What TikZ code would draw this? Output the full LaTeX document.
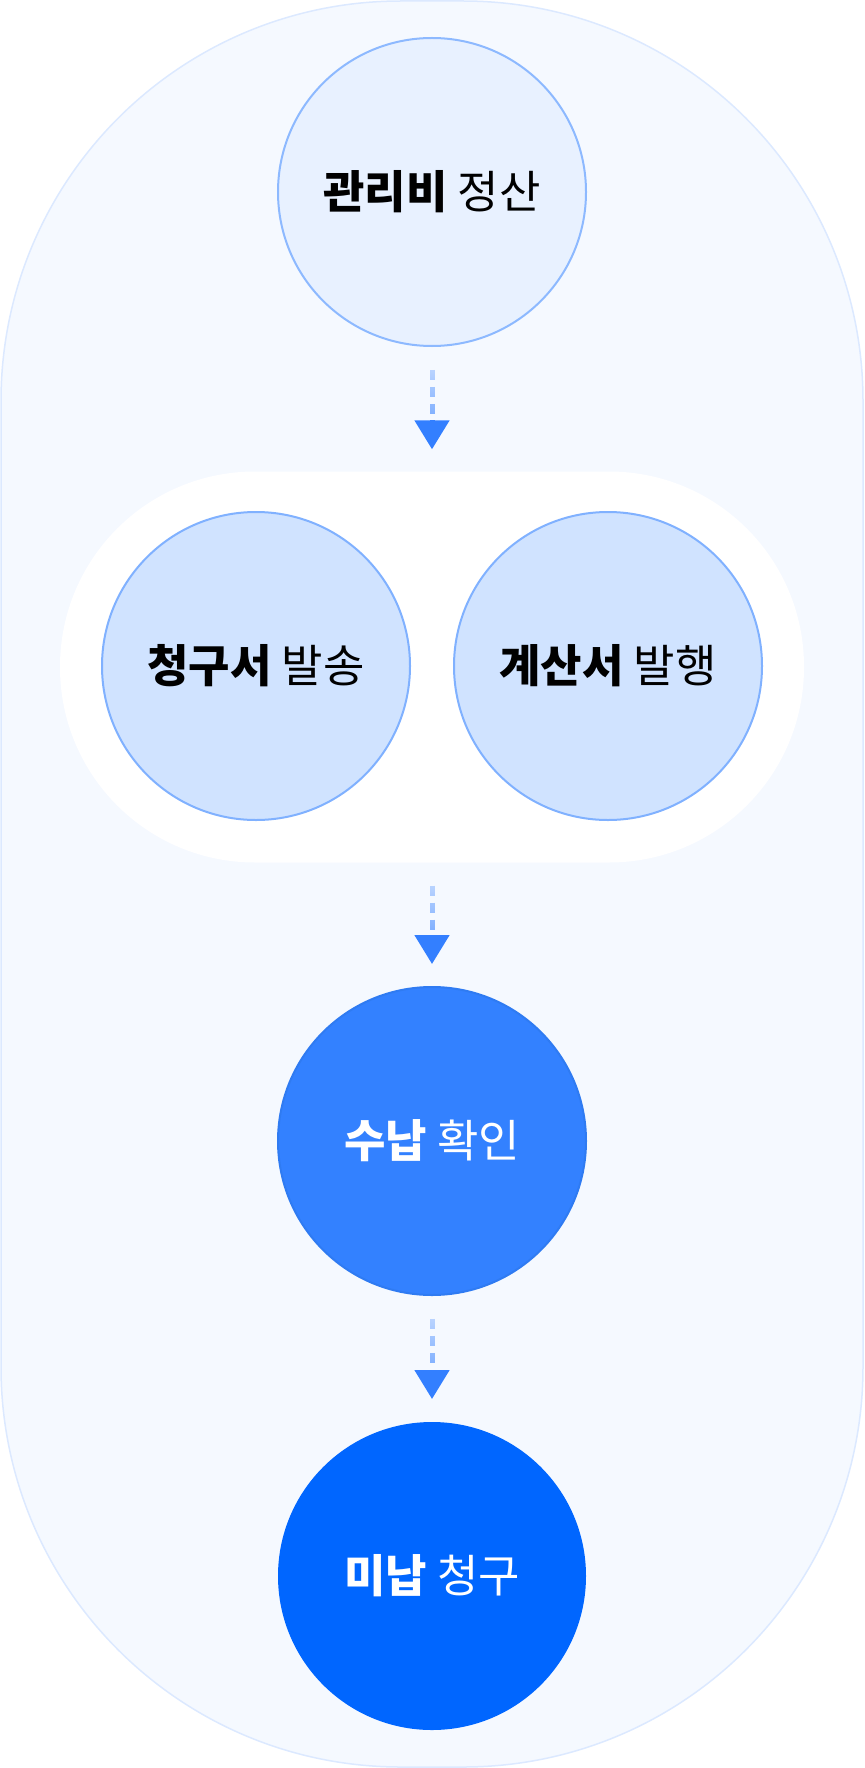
\documentclass[tikz,border=0pt]{standalone}
\usepackage{fontspec}
\setmainfont{Noto Sans CJK KR}
\usetikzlibrary{arrows.meta, fadings}
\definecolor{panelfill}{HTML}{F5F9FF}
\definecolor{panelline}{HTML}{DCE9FF}
\definecolor{startfill}{HTML}{E8F1FF}
\definecolor{startline}{HTML}{8DB9FF}
\definecolor{docfill}{HTML}{D0E3FF}
\definecolor{docline}{HTML}{80B1FF}
\definecolor{payfill}{HTML}{3381FF}
\definecolor{payline}{HTML}{2F7BF2}
\definecolor{duefill}{HTML}{0066FF}
\definecolor{arrowblue}{HTML}{3A84FF}
\definecolor{headblue}{HTML}{337FFF}
\tikzfading[name=arrowfade, top color=transparent!85, bottom color=transparent!0]

\begin{document}
\begin{tikzpicture}[
  x=1pt, y=-1pt,
  panel/.style={draw=panelline, line width=1.5pt, fill=panelfill, rounded corners=400pt, minimum width=862pt, minimum height=1766pt},
  pairbox/.style={fill=white, rounded corners=195pt, minimum width=744pt, minimum height=391pt},
  stage/.style={circle, line width=2pt, minimum size=308pt, inner sep=0pt, font=\fontsize{45pt}{54pt}\selectfont},
  startstage/.style={stage, draw=startline, fill=startfill, text=black},
  docstage/.style={stage, draw=docline, fill=docfill, text=black},
  paystage/.style={stage, draw=payline, fill=payfill, text=white},
  duestage/.style={stage, fill=duefill, text=white},
  arrline/.style={arrowblue, line width=5pt, dash pattern=on 10pt off 7pt, path fading=arrowfade,
    shorten <=23pt, shorten >=51pt},
  arrhead/.style={headblue, line width=5pt, -{Triangle[width=34pt, length=29pt]}, shorten >=22pt}
]
\useasboundingbox (0,0) rectangle (864,1768);

\node[panel] (panel) at (432,884) {};
\node[pairbox] (pair) at (432,667) {};

\node[startstage] (settle) at (432,192) {\textbf{관리비} 정산};
\node[docstage] (invoice) at (256,666) {\textbf{청구서} 발송};
\node[docstage] (taxbill) at (608,666) {\textbf{계산서} 발행};
\node[paystage] (receipt) at (432,1141) {\textbf{수납} 확인};
\node[duestage] (overdue) at (432,1576) {\textbf{미납} 청구};

\draw[arrline] (settle.south) -- (pair.north);
\draw[arrhead] ([yshift=51pt]pair.north) -- (pair.north);
\draw[arrline] (pair.south) -- (receipt.north);
\draw[arrhead] ([yshift=51pt]receipt.north) -- (receipt.north);
\draw[arrline] (receipt.south) -- (overdue.north);
\draw[arrhead] ([yshift=51pt]overdue.north) -- (overdue.north);

\end{tikzpicture}
\end{document}
